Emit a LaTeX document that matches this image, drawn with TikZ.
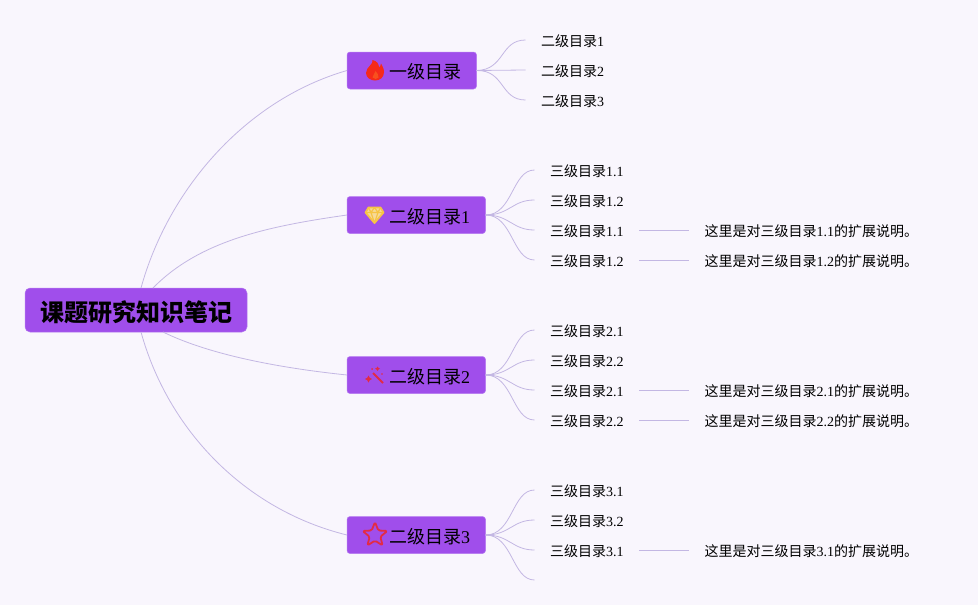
\documentclass[tikz,border=0pt]{standalone}
\usepackage{fontspec}
\setmainfont{Liberation Serif}
\newfontfamily\cjk{Noto Sans CJK SC}
\usepackage{xcolor}
\usepackage{tikz}
\usetikzlibrary{positioning,calc}

\definecolor{pagebg}{HTML}{F9F6FD}
\definecolor{boxfill}{HTML}{A04EEB}
\definecolor{boxedge}{HTML}{B67BF0}
\definecolor{linkline}{HTML}{C3B7E3}
\definecolor{firered}{HTML}{F52A1A}
\definecolor{fireglow}{HTML}{F8501E}
\definecolor{gemgold}{HTML}{F6C445}
\definecolor{iconred}{HTML}{E32B45}

\newcommand{\zh}[1]{{\cjk #1}}

\begin{document}
\begin{tikzpicture}[
    x=1pt, y=-1pt,
    outer sep=0pt,
    rootbox/.style={draw=boxedge, fill=boxfill, rounded corners=5pt, line width=0.5pt, minimum width=222pt, minimum height=44pt, inner sep=0pt, font=\fontsize{24}{28}\selectfont\bfseries, text height=27pt, text depth=4pt},
    mainbox/.style={draw=boxedge, fill=boxfill, rounded corners=3pt, line width=0.5pt, anchor=west, minimum height=37pt, inner ysep=0pt, inner xsep=15.5pt, font=\fontsize{18}{22}\selectfont, text height=19pt, text depth=3pt},
    leaf/.style={minimum height=30pt, inner ysep=0pt, inner xsep=15.5pt, font=\fontsize{14}{16}\selectfont, text height=14pt, text depth=2pt},
    note/.style={leaf},
    link/.style={draw=linkline, line width=0.8pt},
    fire/.pic={
        \fill[firered] (-2.5,-10) .. controls (-1,-6) and (-9,-3) .. (-9,3) .. controls (-9,8) and (-4,10.5) .. (0,10.5)
            .. controls (5,10.5) and (9,7.5) .. (9,2) .. controls (9,-2) and (7,-4) .. (6,-6.5)
            .. controls (5.5,-4) and (5,-3) .. (4,-2.5) .. controls (4,-6) and (2,-9) .. (-2.5,-10) -- cycle;
        \fill[fireglow] (0.5,1) .. controls (0.5,4) and (-3,5) .. (-2.5,7.5) .. controls (-1,9.5) and (2,9.5) .. (3.5,7.5) .. controls (4,5) and (2,3) .. (0.5,1) -- cycle;
    },
    gem/.pic={
        \draw[gemgold, line width=1.8pt, line join=round, fill=gemgold!55!pagebg] (-6,-7.5) -- (6,-7.5) -- (9,-2.5) -- (0,8) -- (-9,-2.5) -- cycle;
        \draw[gemgold, line width=1.2pt, line join=round] (-9,-2.5) -- (9,-2.5) (-6,-7.5) -- (-3.5,-2.5) -- (0,8) -- (3.5,-2.5) -- (6,-7.5) (-3.5,-2.5) -- (0,-7.5) -- (3.5,-2.5);
    },
    wand/.pic={
        \draw[iconred, line width=2pt] (-2,-2) -- (8,8);
        \fill[iconred] (2.5,-8.5) -- (3.5,-7) -- (5,-6.3) -- (3.5,-5.5) -- (2.5,-4) -- (1.5,-5.5) -- (0,-6.3) -- (1.5,-7) -- cycle;
        \fill[iconred] (-6.5,0.5) -- (-5.3,2.7) -- (-3,4) -- (-5.3,5.3) -- (-6.5,7.5) -- (-7.7,5.3) -- (-10,4) -- (-7.7,2.7) -- cycle;
        \fill[iconred] (-3,-6) circle (1);
        \fill[iconred] (7,-1) circle (0.9);
    },
    hollowstar/.pic={
        \draw[iconred, line width=1.8pt, line join=round, rounded corners=1.5pt] (-90:13) -- (-54:5.6) -- (-18:13) -- (18:5.6) -- (54:13) -- (90:5.6) -- (126:13) -- (162:5.6) -- (198:13) -- (234:5.6) -- cycle;
    }
]
    % background and page size
    \fill[pagebg] (0,0) rectangle (978,605);
    \useasboundingbox (0,0) rectangle (978,605);

    \node[rootbox] (root) at (136,310) {\hspace*{1pt}\zh{课题研究知识笔记}};

    \node[mainbox] (first) at (347,70.5) {\hspace*{26.5pt}\zh{一级目录}};
    \node[mainbox] (sec1) at (347,215) {\hspace*{26.5pt}\zh{二级目录}1};
    \node[mainbox] (sec2) at (347,375) {\hspace*{26.5pt}\zh{二级目录}2};
    \node[mainbox] (sec3) at (347,535) {\hspace*{26.5pt}\zh{二级目录}3};

    \pic at (375,70) {fire};
    \pic at (374.5,215) {gem};
    \pic at (375,375) {wand};
    \pic at (375,535) {hollowstar};

    % first group
    \node[leaf, anchor=west] (a1) at (525.5,40) {\zh{二级目录}1};
    \node[leaf, below=0pt of a1] (a2) {\zh{二级目录}2};
    \node[leaf, below=0pt of a2] (a3) {\zh{二级目录}3};

    % second group
    \node[leaf, anchor=west] (b1) at (534.5,170) {\zh{三级目录}1.1};
    \node[leaf, below=0pt of b1] (b2) {\zh{三级目录}1.2};
    \node[leaf, below=0pt of b2] (b3) {\zh{三级目录}1.1};
    \node[leaf, below=0pt of b3] (b4) {\zh{三级目录}1.2};
    \node[note, right=50pt of b3, anchor=west] (b3n) {\zh{这里是对三级目录}1.1\zh{的扩展说明。}};
    \node[note, right=50pt of b4, anchor=west] (b4n) {\zh{这里是对三级目录}1.2\zh{的扩展说明。}};

    % third group
    \node[leaf, anchor=west] (c1) at (534.5,330) {\zh{三级目录}2.1};
    \node[leaf, below=0pt of c1] (c2) {\zh{三级目录}2.2};
    \node[leaf, below=0pt of c2] (c3) {\zh{三级目录}2.1};
    \node[leaf, below=0pt of c3] (c4) {\zh{三级目录}2.2};
    \node[note, right=50pt of c3, anchor=west] (c3n) {\zh{这里是对三级目录}2.1\zh{的扩展说明。}};
    \node[note, right=50pt of c4, anchor=west] (c4n) {\zh{这里是对三级目录}2.2\zh{的扩展说明。}};

    % fourth group
    \node[leaf, anchor=west] (d1) at (534.5,490) {\zh{三级目录}3.1};
    \node[leaf, below=0pt of d1] (d2) {\zh{三级目录}3.2};
    \node[leaf, below=0pt of d2] (d3) {\zh{三级目录}3.1};
    \node[note, right=50pt of d3, anchor=west] (d3n) {\zh{这里是对三级目录}3.1\zh{的扩展说明。}};
    \coordinate (d4) at (534.5,580);

    \draw[link] ([xshift=5pt]root.north) .. controls (168,190) and (245,100) .. (first.west);
    \draw[link] ([xshift=17pt]root.north) .. controls (200,240) and (270,226) .. (sec1.west);
    \draw[link] ([xshift=27pt]root.south) .. controls (210,355) and (280,368) .. (sec2.west);
    \draw[link] ([xshift=5pt]root.south) .. controls (168,430) and (245,510) .. (sec3.west);

    \draw[link] (first.east) .. controls (505,70) and (500,40) .. (a1.west);
    \draw[link] (first.east) -- (a2.west);
    \draw[link] (first.east) .. controls (505,70) and (500,100) .. (a3.west);

    \draw[link] (sec1.east) .. controls (513,215) and (512,170) .. (b1.west);
    \draw[link] (sec1.east) .. controls (510,215) and (512,200) .. (b2.west);
    \draw[link] (sec1.east) .. controls (510,215) and (512,230) .. (b3.west);
    \draw[link] (sec1.east) .. controls (513,215) and (512,260) .. (b4.west);
    \draw[link] (b3.east) -- (b3n.west);
    \draw[link] (b4.east) -- (b4n.west);

    \draw[link] (sec2.east) .. controls (513,375) and (512,330) .. (c1.west);
    \draw[link] (sec2.east) .. controls (510,375) and (512,360) .. (c2.west);
    \draw[link] (sec2.east) .. controls (510,375) and (512,390) .. (c3.west);
    \draw[link] (sec2.east) .. controls (513,375) and (512,420) .. (c4.west);
    \draw[link] (c3.east) -- (c3n.west);
    \draw[link] (c4.east) -- (c4n.west);

    \draw[link] (sec3.east) .. controls (513,535) and (512,490) .. (d1.west);
    \draw[link] (sec3.east) .. controls (510,535) and (512,520) .. (d2.west);
    \draw[link] (sec3.east) .. controls (510,535) and (512,550) .. (d3.west);
    \draw[link] (sec3.east) .. controls (513,535) and (512,580) .. (d4);
    \draw[link] (d3.east) -- (d3n.west);
\end{tikzpicture}
\end{document}
